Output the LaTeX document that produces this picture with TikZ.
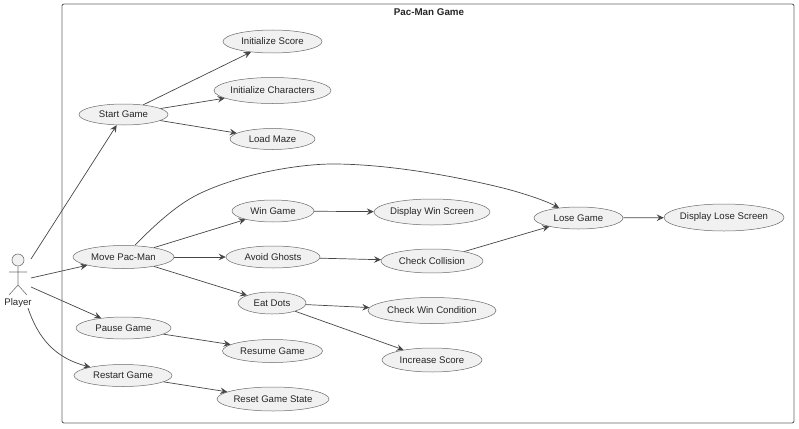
\documentclass[tikz,border=0pt]{standalone}
\usepackage{fontspec}
\setmainfont{Liberation Sans}
\usetikzlibrary{shapes.geometric,arrows.meta}
\definecolor{ucfill}{HTML}{F1F1F1}
\definecolor{ucline}{HTML}{181818}
\tikzset{
  x=1pt,y=-1pt,
  uc/.style={ellipse,draw=ucline!65,fill=ucfill,line width=0.5pt,inner xsep=-8pt,inner ysep=0pt,font=\fontsize{9.6}{11}\selectfont,text=black!85},
  conn/.style={draw=ucline!80,line width=0.7pt,-{Stealth[length=7pt,width=6.5pt,inset=2.5pt]}},
  actorline/.style={draw=black!55,line width=0.6pt},
}
\newcommand{\usecase}[6]{\node[uc,minimum width=#4pt,minimum height=#5pt] (#1) at (#2,#3) {\raisebox{-0.6pt}{#6}};}
\begin{document}
\begin{tikzpicture}
\useasboundingbox (0,0) rectangle (799,428);
\node[draw=black!60,line width=0.9pt,rounded corners=2pt,minimum width=732pt,minimum height=419pt,inner sep=0pt] (frame) at (428,213.5) {};
\node[font=\bfseries\fontsize{9.8}{11}\selectfont,text=black!85] (title) at (429,12.5) {Pac-Man Game};
% actor
\node[circle,draw=black!55,fill=ucfill,line width=0.6pt,minimum size=12pt,inner sep=0pt] (head) at (18,260) {};
\coordinate (hip) at (18,285);
\coordinate (armL) at (9,272);
\coordinate (armR) at (27,272);
\coordinate (legL) at (9,295);
\coordinate (legR) at (27,295);
\draw[actorline] (head) -- (hip) (armL) -- (armR) (legL) -- (hip) -- (legR);
\node[font=\fontsize{9.6}{11}\selectfont,text=black!85] (player) at (18,303.5) {Player};
% use cases
\usecase{startgame}{123.5}{114.5}{89}{21}{Start Game}
\usecase{initscore}{272.5}{41.5}{99}{23}{Initialize Score}
\usecase{initchars}{272.5}{90.5}{117}{26}{Initialize Characters}
\usecase{loadmaze}{272.5}{139}{85}{21}{Load Maze}
\usecase{movepac}{123.5}{257}{101}{23}{Move Pac-Man}
\usecase{pausegame}{123.5}{328}{95}{22}{Pause Game}
\usecase{restartgame}{123}{375.5}{98}{22}{Restart Game}
\usecase{wingame}{273}{211}{82}{22}{Win Game}
\usecase{avoid}{273}{257}{94}{22}{Avoid Ghosts}
\usecase{eatdots}{272}{303}{68}{22}{Eat Dots}
\usecase{resume}{272.5}{351}{100}{23}{Resume Game}
\usecase{reset}{273}{399}{112}{24}{Reset Game State}
\usecase{dispwin}{432}{212}{116}{26}{Display Win Screen}
\usecase{collision}{432}{261}{102}{24}{Check Collision}
\usecase{wincond}{432}{310.5}{128}{26}{Check Win Condition}
\usecase{incscore}{432}{360}{100}{24}{Increase Score}
\usecase{losegame}{578.5}{218}{89}{22}{Lose Game}
\usecase{displose}{724}{217.5}{120}{27}{Display Lose Screen}
% connectors
\coordinate (p1) at (31,259);
\coordinate (p2) at (31,278);
\coordinate (p3) at (31,287);
\coordinate (p4) at (28,308);
\draw[conn] (p1) -- (startgame);
\draw[conn] (p2) -- (movepac);
\draw[conn] (p3) -- (pausegame);
\draw[conn] (p4) .. controls (38,338) and (55,358) .. (restartgame);
\draw[conn] (startgame) -- (initscore);
\draw[conn] (startgame) -- (initchars);
\draw[conn] (startgame) -- (loadmaze);
\draw[conn] (movepac) -- (wingame);
\draw[conn] (movepac) -- (avoid);
\draw[conn] (movepac) -- (eatdots);
\draw[conn] (pausegame) -- (resume);
\draw[conn] (restartgame) -- (reset);
\draw[conn] (wingame) -- (dispwin);
\draw[conn] (avoid) -- (collision);
\draw[conn] (eatdots) -- (wincond);
\draw[conn] (eatdots) -- (incscore);
\draw[conn] (collision) -- (losegame);
\draw[conn] (losegame) -- (displose);
\coordinate (m0) at (135,245);
\coordinate (m1) at (203,192);
\coordinate (m2) at (333,164);
\coordinate (m3) at (503,188);
\draw[conn] (m0) .. controls (155,225) and (178,203) .. (m1) .. controls (245,173) and (300,164) .. (m2) .. controls (385,164) and (450,175) .. (m3) .. controls (530,195) and (548,202) .. (losegame);
\end{tikzpicture}
\end{document}
